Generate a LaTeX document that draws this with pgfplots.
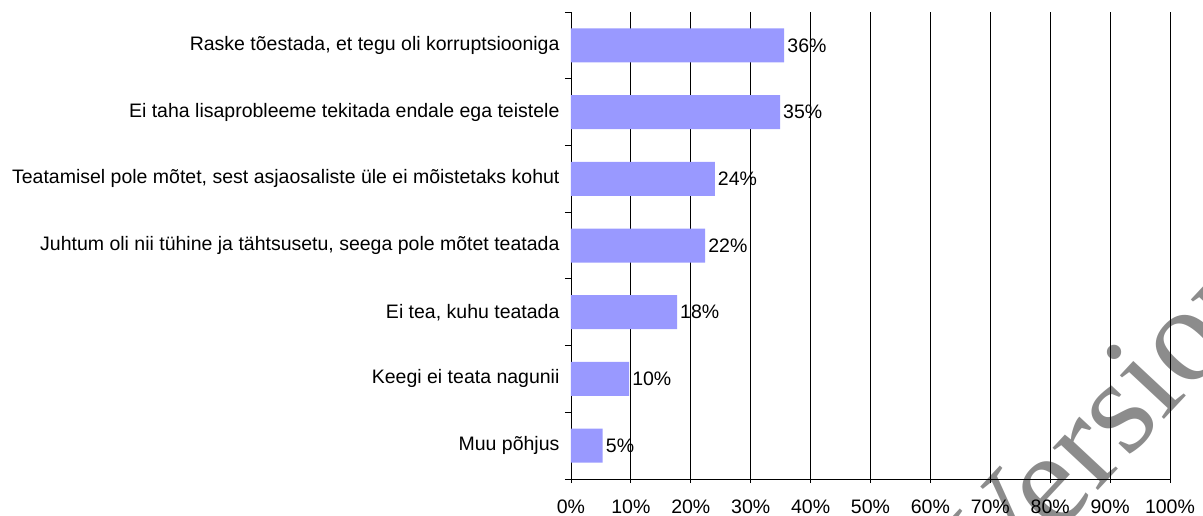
\documentclass[border=0pt]{standalone}
\usepackage{fontspec}
\setmainfont{Liberation Sans}
\newfontfamily\wmfont{Liberation Serif}
\usepackage{pgfplots}
\pgfplotsset{compat=1.18}
\definecolor{barblue}{RGB}{153,153,255}
\begin{document}
\begin{tikzpicture}
\begin{axis}[
  scale only axis, width=599pt, height=467pt,
  at={(0,0)}, anchor=south west,
  xmin=0, xmax=100, ymin=-0.5, ymax=6.5,
  xbar, bar width=34pt,
  axis x line*=bottom, axis y line*=left,
  axis line style={black, line width=0.8pt},
  xtick={0,10,...,100},
  xticklabels={0\%,10\%,20\%,30\%,40\%,50\%,60\%,70\%,80\%,90\%,100\%},
  xmajorgrids, major grid style={black, line width=0.8pt},
  ytick={0,...,6},
  yticklabels={Muu põhjus, Keegi ei teata nagunii, {Ei tea, kuhu teatada}, {Juhtum oli nii tühine ja tähtsusetu, seega pole mõtet teatada}, {Teatamisel pole mõtet, sest asjaosaliste üle ei mõistetaks kohut}, Ei taha lisaprobleeme tekitada endale ega teistele, {Raske tõestada, et tegu oli korruptsiooniga}},
  minor ytick={-0.5,0.5,...,6.5},
  every major y tick/.style={draw=none},
  every minor y tick/.style={black, line width=0.8pt},
  every major x tick/.style={black, line width=0.8pt},
  tick align=outside, major tick length=4pt, minor tick length=6pt,
  ticklabel style={font=\fontsize{19.5}{22}\selectfont},
  yticklabel style={xshift=-4pt},
  xticklabel style={yshift=-13pt},
  nodes near coords={\pgfplotspointmeta},
  point meta=explicit symbolic,
  nodes near coords style={anchor=west, font=\fontsize{19.5}{22}\selectfont, inner sep=3pt},
  clip=false,
]
\addplot[fill=barblue, draw=none] coordinates {
  (5.3,0) [5\%]
  (9.7,1) [10\%]
  (17.7,2) [18\%]
  (22.4,3) [22\%]
  (24.0,4) [24\%]
  (34.9,5) [35\%]
  (35.6,6) [36\%]
};
\end{axis}
\node[rotate=47, anchor=base west, font=\wmfont\fontsize{135}{135}\selectfont, text=black, text opacity=0.45, inner sep=0pt] at (428pt,-118pt) {Version};
\pgfresetboundingbox
\path[use as bounding box] (-571pt,-36pt) rectangle (632pt,479pt);
\end{tikzpicture}
\end{document}
